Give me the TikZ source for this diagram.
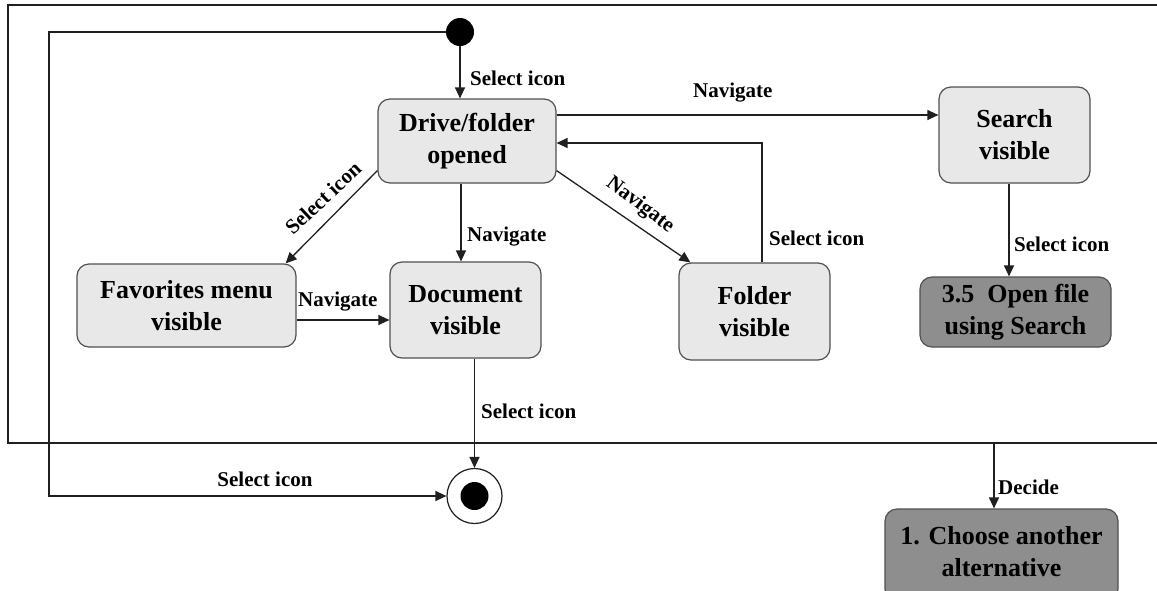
\documentclass[tikz,border=0pt]{standalone}
\usepackage{fontspec}
\setmainfont{Liberation Serif}
\usetikzlibrary{arrows.meta}
\definecolor{statefill}{HTML}{E8E8E8}
\definecolor{stateedge}{HTML}{505050}
\definecolor{darkfill}{HTML}{8E8E8E}
\definecolor{ink}{HTML}{202020}
\begin{document}
\begin{tikzpicture}[x=1pt,y=-1pt,
  statebox/.style={draw=stateedge, fill=statefill, rounded corners=12pt, line width=1.2pt,
    align=center, inner sep=0pt, font=\fontsize{26}{32}\selectfont\bfseries},
  darkbox/.style={statebox, fill=darkfill},
  lbl/.style={inner sep=0pt, font=\fontsize{21}{24}\selectfont\bfseries},
  arr/.style={draw=ink, line width=1.3pt, -{Triangle[length=11pt,width=10pt]}},
  frameline/.style={draw=ink, line width=1.4pt}]
\clip (0,0) rectangle (1157,590);
\fill[white] (0,0) rectangle (1157,590);

% enclosing frame
\draw[frameline] (1157,5) -- (8,5) -- (8,443) -- (1157,443);

% pseudo states
\node[circle, fill=black, minimum size=28pt, inner sep=0pt] (init) at (460,32) {};
\node[circle, draw=ink, line width=1.2pt, fill=white, minimum size=55pt, inner sep=0pt] (final) at (474.5,496) {};
\node[circle, fill=black, minimum size=28pt, inner sep=0pt] (finaldot) at (final) {};

% states
\node[statebox, minimum width=178pt, minimum height=84pt] (drive) at (467,141) {Drive/folder\\opened};
\node[statebox, minimum width=151pt, minimum height=96pt] (search) at (1014.5,135) {Search\\visible};
\node[statebox, minimum width=219pt, minimum height=83pt] (fav) at (186.5,305.5) {Favorites menu\\visible};
\node[statebox, minimum width=151pt, minimum height=96pt] (doc) at (465.5,310) {Document\\visible};
\node[statebox, minimum width=151pt, minimum height=97pt] (folder) at (754.5,311.5) {Folder\\visible};
\node[darkbox, minimum width=191pt, minimum height=70pt] (open) at (1015.5,312) {3.5~~Open file\\using Search};
\node[darkbox, minimum width=233pt, minimum height=92pt, text depth=8pt] (choose) at (1001.5,555) {1. Choose another\\alternative};

% transitions
\coordinate (loopcorner) at (49,32);
\coordinate (framegate) at (994,443);
\draw[arr] (init) -- (init |- drive.north);
\draw[arr] (init.west) -- (loopcorner) |- (final.west);
\draw[arr] ([yshift=26pt]drive.east) -- ([yshift=26pt]drive.east -| search.west);
\draw[arr] ([xshift=7.5pt]folder.north) |- ([yshift=-2pt]drive.east);
\draw[arr] ([yshift=13pt]drive.south east) -- ([xshift=12pt]folder.north west);
\draw[arr] ([yshift=13pt]drive.south west) -- ([xshift=-11pt]fav.north east);
\draw[arr] ([xshift=-6pt]drive.south) -- ([xshift=-6pt]drive.south |- doc.north);
\draw[arr] ([yshift=-14.5pt]fav.east) -- ([yshift=-14.5pt]fav.east -| doc.west);
\draw[arr] (doc.south -| final) -- (final.north);
\draw[arr] ([xshift=-5.5pt]search.south) -- ([xshift=-5.5pt]search.south |- open.north);
\draw[arr] (framegate) -- (framegate |- choose.north);

% transition labels
\node[lbl, anchor=west] (l1) at (470,78) {Select icon};
\node[lbl, anchor=west] (l2) at (693,93) {Navigate};
\node[lbl, anchor=west] (l3) at (769,238) {Select icon};
\node[lbl, rotate=-37] (l4) at (640,205) {Navigate};
\node[lbl, rotate=43] (l5) at (323,198) {Select icon};
\node[lbl, anchor=west] (l6) at (467,237) {Navigate};
\node[lbl, anchor=west] (l7) at (298,302) {Navigate};
\node[lbl, anchor=west] (l8) at (1014,244) {Select icon};
\node[lbl, anchor=west] (l9) at (481,411) {Select icon};
\node[lbl] (l10) at (265,479) {Select icon};
\node[lbl, anchor=west] (l11) at (998,487) {Decide};
\end{tikzpicture}
\end{document}
